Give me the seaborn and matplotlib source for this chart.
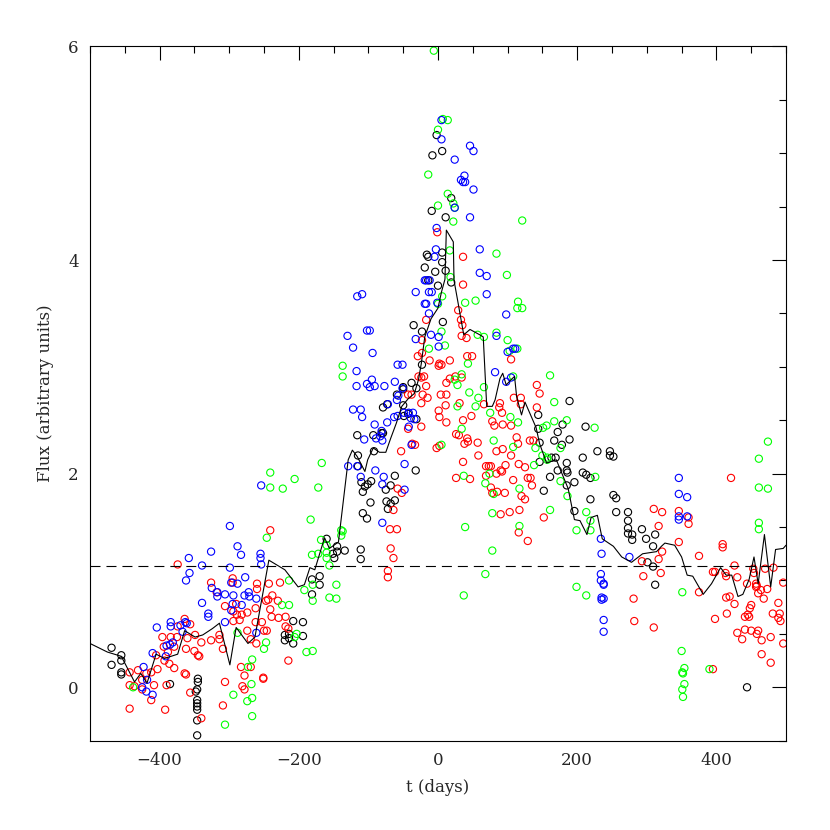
import matplotlib
matplotlib.use("Agg")
import matplotlib.pyplot as plt
from matplotlib.ticker import MultipleLocator
import numpy as np
import pandas as pd
import seaborn as sns

# light curve points: t in days, flux in arbitrary units
black_t = [-469, -469, -455, -455, -455, -455, -385, -345, -345, -346, -348, -346, -346, -346, -346, -346, -346,
           -208, -194, -220, -214, -220, -208, -194, -214, -181, -170, -170, -181,
           -35, -23, -23, -50, -50, -38, -31, -59, -50, -79, -73, -49, -43, -31, -116, -93, -81, -79, -92, -115, -32,
           -115, -110, -105, -101, -96, -108, -62, -75, -68, -74, -68, -62, -72, -97, -108, -102,
           -160, -145, -151, -149, -145, -134, -111, -111,
           -2, 6, -8, 19, -9, 11, -16, -14, 6, 6, -19, -4, 11, 19, 0, -14, 7,
           189, 144, 179, 212, 144, 172, 167, 178, 189, 146, 229, 247, 247, 252, 208, 146, 163, 169,
           185, 185, 186, 172, 161, 185, 196, 208, 213, 219, 152, 219, 252, 256, 196, 256,
           273, 273, 273, 273, 279, 279, 293, 299, 301, 312, 309, 309, 312, 444]
black_f = [0.37, 0.21, 0.30, 0.25, 0.14, 0.12, 0.03, 0.08, 0.05, -0.02, -0.04, -0.12, -0.15, -0.18, -0.21, -0.31, -0.45,
           0.62, 0.61, 0.49, 0.50, 0.44, 0.41, 0.48, 0.46, 1.01, 1.04, 0.96, 0.87,
           3.39, 3.33, 3.02, 2.81, 2.79, 2.85, 2.80, 2.74, 2.64, 2.62, 2.65, 2.54, 2.56, 2.51, 2.36, 2.36, 2.38, 2.38, 2.21, 2.17, 2.03,
           2.07, 1.92, 1.88, 1.90, 1.93, 1.83, 1.98, 1.85, 1.89, 1.74, 1.72, 1.75, 1.67, 1.73, 1.63, 1.58,
           1.39, 1.32, 1.25, 1.21, 1.27, 1.28, 1.29, 1.20,
           5.17, 5.02, 4.98, 4.58, 4.46, 4.40, 4.05, 4.03, 4.07, 3.98, 3.93, 3.89, 3.90, 3.79, 3.76, 3.81, 3.42,
           2.68, 2.55, 2.46, 2.44, 2.42, 2.39, 2.31, 2.27, 2.32, 2.29, 2.21, 2.21, 2.17, 2.16, 2.15, 2.11, 2.15, 2.15,
           2.10, 2.03, 2.01, 2.03, 1.97, 1.89, 1.92, 2.01, 1.99, 1.96, 1.84, 1.76, 1.80, 1.77, 1.65, 1.64,
           1.64, 1.56, 1.49, 1.44, 1.43, 1.38, 1.48, 1.39, 1.17, 1.43, 1.32, 1.13, 0.96, 0.00]

red_t = [-374, -326, -364, -356, -374, -396, -384, -375, -394, -388, -379, -360, -349, -340, -326, -362, -350, -345, -343,
         -405, -403, -393, -379, -386, -364, -362, -443, -431, -419, -412, -425, -408, -443, -436, -425, -412, -443,
         -392, -390, -356, -340,
         -241, -318, -295, -295, -260, -260, -243, -227, -247, -244, -238, -230, -306, -290, -289, -285, -282, -274,
         -262, -262, -253, -250, -246, -241, -239, -229, -219, -219, -215, -314, -314, -309, -274, -269, -261, -294,
         -294, -215, -283, -269, -278, -251, -251, -306, -281, -278, -309,
         -23, -23, -29, -28, -24, -20, -43, -38, -22, -24, -24, -43, -37, -33, -53,
         -58, -52, -64, -69, -59, -68, -64, -72, -72, -1, 36,
         36, 29, 33, 35, 34, 41, -17, -12, 2, 1, 5, 17, 42, 49, 105, -17, 17, 12, 25, 34, -15, 4, 12, 11, 31, 66,
         89, 88, 92, 119, 119, 109, 1, 2, 48, 36, 12, 78, 81, 93, 105, 113, 115, 26, 30, 42, 38, 43, 57, -2, 2, 93,
         105, 58, 84,
         36, 26, 46, 69, 73, 76, 69, 84, 90, 92, 97, 116, 125, 108, 129, 133, 135, 76, 78, 85, 96, 120, 125, 90, 103,
         117, 116, 129,
         142, 146, 142, 132, 137, 152, 293, 295, 281, 282,
         421, 310, 322, 346, 360, 360, 317, 322, 317, 320, 346, 375, 409, 409, 426, 395, 398, 413, 414, 430, 375,
         444, 453, 454, 457, 458, 457, 460, 464, 470, 482, 473, 468, 496, 489, 481, 491, 489, 492, 419, 414, 426,
         450, 448, 445, 441, 447, 415, 398, 441, 450, 460, 458, 430, 437, 465, 478, 496, 465, 478, 310, 395]
red_f = [1.15, 0.98, 0.64, 0.59, 0.57, 0.47, 0.47, 0.47, 0.38, 0.33, 0.38, 0.46, 0.49, 0.42, 0.44, 0.36, 0.34, 0.30, 0.29,
         0.30, 0.17, 0.25, 0.18, 0.22, 0.13, 0.12, 0.14, 0.16, 0.13, 0.14, 0.07, 0.02, 0.02, 0.01, -0.02, -0.12, -0.20,
         -0.21, 0.02, -0.05, -0.29,
         1.47, 0.89, 1.02, 0.98, 0.97, 0.92, 0.97, 0.98, 0.81, 0.82, 0.86, 0.81, 0.76, 0.78, 0.68, 0.63, 0.68, 0.70,
         0.74, 0.61, 0.61, 0.53, 0.53, 0.73, 0.66, 0.65, 0.66, 0.57, 0.55, 0.49, 0.45, 0.36, 0.53, 0.45, 0.41, 0.62,
         0.71, 0.25, 0.19, 0.19, 0.11, 0.09, 0.08, 0.05, 0.01, -0.02, -0.17,
         3.25, 3.13, 3.10, 2.91, 2.90, 2.91, 2.74, 2.74, 2.74, 2.66, 2.44, 2.42, 2.28, 2.27, 2.21,
         1.86, 1.82, 1.66, 1.48, 1.48, 1.30, 1.21, 1.09, 1.03, 4.26, 4.03,
         3.77, 3.53, 3.44, 3.39, 3.29, 3.27, 3.44, 3.06, 3.03, 3.01, 3.02, 3.06, 3.10, 3.10, 3.07, 2.82, 2.89, 2.85,
         2.91, 2.90, 2.71, 2.74, 2.74, 2.64, 2.66, 2.65,
         2.66, 2.62, 2.57, 2.71, 2.65, 2.71, 2.59, 2.53, 2.54, 2.50, 2.48, 2.49, 2.45, 2.46, 2.45, 2.34, 2.28, 2.37,
         2.36, 2.33, 2.28, 2.30, 2.29, 2.24, 2.26, 2.23, 2.17, 2.17, 2.21,
         2.11, 1.96, 1.95, 2.07, 2.07, 2.07, 1.98, 2.00, 2.03, 2.02, 2.08, 2.09, 2.06, 1.94, 1.96, 1.96, 1.89, 1.87,
         1.82, 1.83, 1.82, 1.79, 1.76, 1.62, 1.64, 1.66, 1.45, 1.37,
         2.83, 2.75, 2.62, 2.31, 2.31, 1.59, 1.18, 1.04, 0.83, 0.62,
         1.96, 1.67, 1.64, 1.65, 1.59, 1.53, 1.51, 1.27, 1.20, 1.07, 1.36, 1.23, 1.34, 1.31, 1.14, 1.08, 1.08, 1.07,
         1.04, 1.03, 0.89, 0.97, 1.11, 1.07, 0.97, 0.95, 0.94, 0.88, 0.91, 1.11, 1.12, 0.92, 0.83, 0.98, 0.79, 0.69,
         0.69, 0.65, 0.62, 0.85, 0.84, 0.78, 0.77, 0.74, 0.68, 0.66, 0.66, 0.69, 0.64, 0.54, 0.53, 0.53, 0.50, 0.51,
         0.45, 0.44, 0.47, 0.41, 0.31, 0.23, 0.56, 0.17]

green_t = [-438,
           -241, -241, -223, -206, -172, -183, -246, -168, -181, -214, -192, -180, -180, -224, -214, -203, -206, -247,
           -250, -189, -180, -267, -273, -268, -294, -267, -274, -267, -306, -288,
           -137, -137, -167, -139, -137, -139, -160, -172, -160, -160, -156, -146, -156, -146,
           -6, 7, 14, 0, -14, 14, 0, 22, 24, 22, 17, 84, 99, 18,
           6, 0, 39, 54, 5, 57, 66, 84, 100, 103, -13, 10, 43, 34, 28, 24, 108, 66, 45, 58, 54, 28, 75, 104, 115, 34,
           80, 108, 5,
           37, 68, 74, 80, 78, 39, 78, 117, 117, 68, 37, 138,
           115, 114, 121, 114, 161, 167, 167, 185, 151, 156, 225, 140, 176, 150, 157, 121,
           157, 176, 226, 186, 161, 213, 219, 219, 199, 199, 213,
           474, 461, 461, 474, 461, 461, 351, 350, 354, 351, 352, 354, 351, 352, 390]
green_f = [0.00,
           2.01, 1.87, 1.86, 1.95, 1.87, 1.57, 1.40, 1.38, 1.24, 1.00, 0.91, 0.96, 0.81, 0.77, 0.77, 0.50, 0.47, 0.42,
           0.36, 0.33, 0.34, 0.26, 0.19, 0.03, -0.07, -0.10, -0.13, -0.27, -0.35, 0.51,
           3.01, 2.91, 2.10, 1.47, 1.46, 1.42, 1.33, 1.25, 1.26, 1.21, 1.14, 0.96, 0.84, 0.83,
           5.96, 5.32, 5.31, 5.22, 4.80, 4.62, 4.51, 4.53, 4.49, 4.36, 4.09, 4.06, 3.86, 3.84,
           3.66, 3.59, 3.60, 3.62, 3.33, 3.30, 3.28, 3.32, 3.25, 3.15, 3.17, 3.20, 3.03, 2.93, 2.83, 2.88, 2.91, 2.81,
           2.76, 2.71, 2.63, 2.63, 2.57, 2.53, 2.48, 2.42, 2.31, 2.25, 2.27,
           1.98, 1.91, 2.00, 1.81, 1.63, 1.50, 1.28, 1.86, 1.51, 1.06, 0.86, 2.08,
           3.61, 3.55, 3.55, 3.17, 2.92, 2.67, 2.49, 2.50, 2.43, 2.45, 2.43, 2.24, 2.24, 2.17, 2.15, 4.37,
           2.13, 1.93, 1.97, 1.79, 1.66, 1.64, 1.56, 1.47, 1.47, 0.94, 0.86,
           2.30, 2.14, 1.87, 1.86, 1.54, 1.48, 0.89, 0.34, 0.18, 0.14, 0.13, 0.03, -0.02, -0.09, 0.17]

blue_t = [-358, -339, -357, -362, -325, -339, -330, -330, -404, -384, -384, -370, -363, -361, -367, -381, -385, -390,
          -410, -391, -423, -418, -425, -419, -410, -326,
          -254, -299, -288, -283, -255, -255, -254, -299, -277, -297, -288, -317, -317, -306, -294, -278, -272, -271,
          -261, -282, -297, -295, -306, -261,
          -116, -109, -32, -19, -19, -130, -122, -102, -98, -94, -117, -58, -51, -32, -117, -102, -98, -95, -91, -77,
          -62, -51, -59, -57, -72, -122, -111, -109, -91, -73, -63, -58, -49, -42, -36, -39, -34, -42, -106, -81, -83,
          -80, -89, -38, -48, -129, -116, -90,
          -111, -78, -80, -48, -80,
          5, 5, 46, 51, 24, 38, 33, 36, 39, 51, 24, 46, -2, -3, -5, 60, 60, 70,
          70, -17, -12, -13, -9, -17, -1, -13, -10, 1, 1, 98, 84, 108, 111, 100, 82, 98, 105,
          234, 235, 275, 234, 234, 238, 238, 235, 238, 235, 238, 238,
          346, 346, 358, 346, 346, 358]
blue_f = [1.21, 1.14, 1.07, 1.00, 0.93, 0.79, 0.69, 0.66, 0.56, 0.61, 0.57, 0.58, 0.61, 0.60, 0.52, 0.42, 0.40, 0.39,
          0.32, 0.29, 0.19, 0.07, 0.00, -0.04, -0.07, 1.27,
          1.89, 1.51, 1.32, 1.24, 1.25, 1.21, 1.15, 1.12, 1.03, 0.98, 0.97, 0.89, 0.85, 0.87, 0.86, 0.86, 0.89, 0.85,
          0.83, 0.77, 0.72, 0.78, 0.61, 0.51,
          3.66, 3.68, 3.70, 3.59, 3.81, 3.29, 3.18, 3.34, 3.34, 3.13, 2.96, 3.02, 3.02, 3.26, 2.82, 2.84, 2.81, 2.88,
          2.82, 2.82, 2.86, 2.80, 2.69, 2.73, 2.65, 2.60, 2.60, 2.53, 2.46, 2.48, 2.53, 2.54, 2.57, 2.57, 2.57, 2.52,
          2.51, 2.44, 2.32, 2.40, 2.35, 2.31, 2.33, 2.27, 2.09, 2.07, 2.07, 2.03,
          1.97, 1.97, 1.90, 1.85, 1.54,
          5.31, 5.13, 5.07, 5.02, 4.94, 4.79, 4.75, 4.73, 4.73, 4.66, 4.49, 4.40, 4.30, 4.10, 4.03, 4.10, 3.88, 3.85,
          3.68, 3.81, 3.81, 3.70, 3.70, 3.59, 3.60, 3.50, 3.30, 3.28, 3.19, 3.49, 3.29, 3.17, 3.17, 3.14, 2.95, 2.86,
          2.90,
          1.39, 1.25, 1.22, 1.06, 1.00, 0.97, 0.96, 0.84, 0.83, 0.82, 0.63, 0.52,
          1.96, 1.81, 1.78, 1.60, 1.57, 1.60]

# running mean curve
line_t = [-503, -475, -455, -436, -427, -418, -405, -393, -374, -364, -349, -338, -324, -314, -299, -290, -273, -263,
          -243, -220, -201, -192, -184, -177, -163, -156, -143, -129, -123, -116, -105, -101, -93, -84, -75, -68, -60,
          -52, -43, -34, -28, -24, -19, -10, 0, 5, 10, 12, 22, 23, 28, 37, 46, 60, 65, 70, 78, 82, 89, 93, 98, 105,
          110, 113, 120, 125, 141, 146, 156, 170, 187, 196, 204, 214, 220, 229, 236, 252, 264, 278, 294, 304, 314,
          321, 326, 340, 350, 358, 366, 381, 393, 406, 414, 422, 431, 438, 447, 454, 460, 469, 478, 485, 496, 500]
line_f = [0.42, 0.33, 0.29, 0.05, 0.13, 0.04, 0.31, 0.27, 0.31, 0.53, 0.47, 0.49, 0.55, 0.60, 0.21, 0.56, 0.41, 0.47,
          1.19, 1.10, 0.94, 0.96, 1.12, 1.10, 1.40, 1.30, 1.36, 2.13, 2.22, 2.16, 2.02, 2.13, 2.24, 2.20, 2.20, 2.33,
          2.47, 2.63, 2.70, 2.75, 2.88, 3.03, 3.28, 3.45, 3.55, 3.70, 3.82, 4.28, 4.17, 3.81, 3.63, 3.30, 3.35, 3.30,
          3.28, 2.63, 2.63, 2.69, 2.89, 2.94, 2.83, 2.88, 2.91, 2.72, 2.55, 2.67, 2.43, 2.28, 2.10, 2.13, 1.86, 1.57,
          1.56, 1.43, 1.59, 1.61, 1.39, 1.32, 1.22, 1.17, 1.25, 1.26, 1.27, 1.32, 1.35, 1.33, 1.22, 1.05, 1.04, 0.87,
          0.97, 1.12, 1.05, 1.05, 0.85, 0.87, 1.01, 1.22, 0.97, 1.43, 0.94, 1.29, 1.30, 1.33]

mean_flux = 1.14

series = [
    (black_t, black_f, "black"),
    (red_t, red_f, "red"),
    (green_t, green_f, "#00ff00"),
    (blue_t, blue_f, "blue"),
]

sns.set_style("white")
plt.rcParams["font.family"] = ["DejaVu Serif"]
plt.rcParams["lines.scale_dashes"] = False

fig = plt.figure(figsize=(8.3, 8.3), dpi=100)
ax = fig.add_axes([0.1084, 0.1076, 0.8386, 0.8365])

for t, f, col in series:
    df = pd.DataFrame({"t": t, "flux": f})
    sns.scatterplot(data=df, x="t", y="flux", ax=ax, s=27, marker="o",
                    facecolor="none", edgecolor=col, linewidth=0.8, zorder=2)

sns.lineplot(x=line_t, y=line_f, ax=ax, color="black", linewidth=0.8,
             sort=False, estimator=None, zorder=3)
ax.axhline(mean_flux, color="black", linewidth=0.8, linestyle=(0, (7.2, 4.3)), zorder=3)

ax.set_xlim(-500, 500)
ax.set_ylim(-0.5, 6)
ax.xaxis.set_major_locator(MultipleLocator(200))
ax.xaxis.set_minor_locator(MultipleLocator(50))
ax.yaxis.set_major_locator(MultipleLocator(2))
ax.yaxis.set_minor_locator(MultipleLocator(0.5))
ax.tick_params(which="both", direction="in", top=True, right=True, width=0.8, color="black")
ax.tick_params(which="major", length=10, labelsize=12, pad=8)
ax.tick_params(which="minor", length=5)
for sp in ax.spines.values():
    sp.set_color("black")
    sp.set_linewidth(0.8)

ax.set_xlabel("t (days)", fontsize=12, labelpad=7)
ax.set_ylabel("Flux (arbitrary units)", fontsize=12, labelpad=10)

fig.savefig("out.png", dpi=100, facecolor="white")
